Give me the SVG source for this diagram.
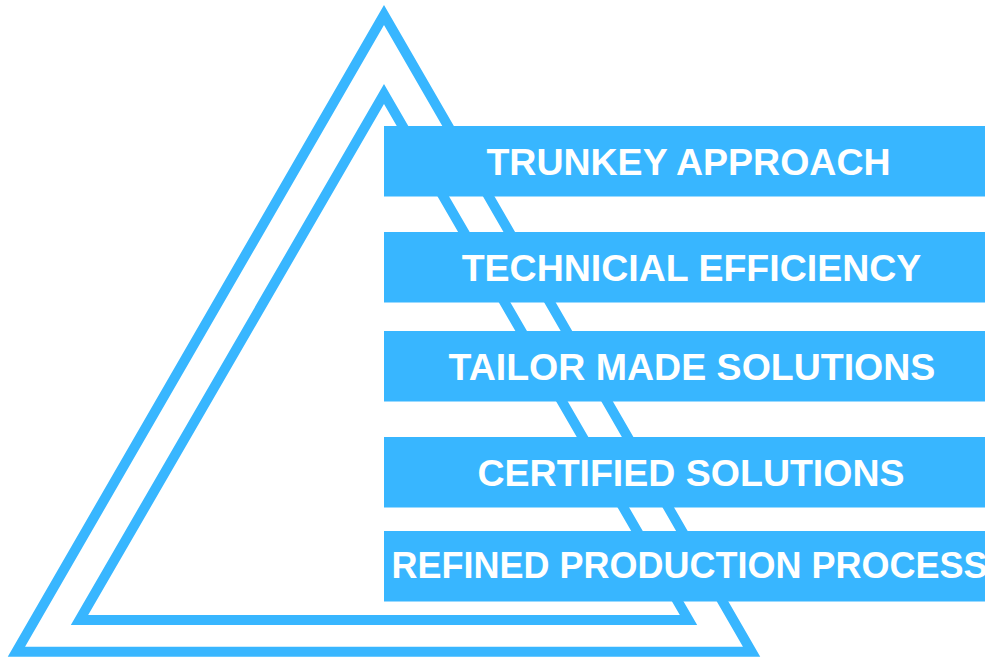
<svg xmlns="http://www.w3.org/2000/svg" width="985" height="657" viewBox="0 0 985 657">
<style>
.tri{fill:none;stroke:#38B6FF;stroke-width:10;stroke-linejoin:miter;stroke-miterlimit:10}
.band{fill:#38B6FF}
.lbl{fill:#FFFFFF;font-family:"Liberation Sans",Arial,sans-serif;font-weight:bold;font-size:37.5px;text-anchor:middle}
</style>
<rect width="985" height="657" fill="#FFFFFF"/>
<g id="pyramid">
<polygon class="tri" points="384,15 751.6,651.7 16.4,651.7"/>
<polygon class="tri" points="384,94 688.5,620 79.5,620"/>
</g>
<g id="n1"><rect class="band" x="384" y="126" width="601" height="70.5"/><text class="lbl" x="688.5" y="174.5">TRUNKEY APPROACH</text></g>
<g id="n2"><rect class="band" x="384" y="232" width="601" height="70.5"/><text class="lbl" x="691.5" y="281">TECHNICIAL EFFICIENCY</text></g>
<g id="n3"><rect class="band" x="384" y="331" width="601" height="70.5"/><text class="lbl" x="692" y="380">TAILOR MADE SOLUTIONS</text></g>
<g id="n4"><rect class="band" x="384" y="437" width="601" height="70.5"/><text class="lbl" x="691" y="486">CERTIFIED SOLUTIONS</text></g>
<g id="n5"><rect class="band" x="384" y="531" width="601" height="70.5"/><text class="lbl" x="391.5" y="578" style="font-size:36px;text-anchor:start">REFINED PRODUCTION PROCESS</text></g>
<g id="connectors"></g>
</svg>
